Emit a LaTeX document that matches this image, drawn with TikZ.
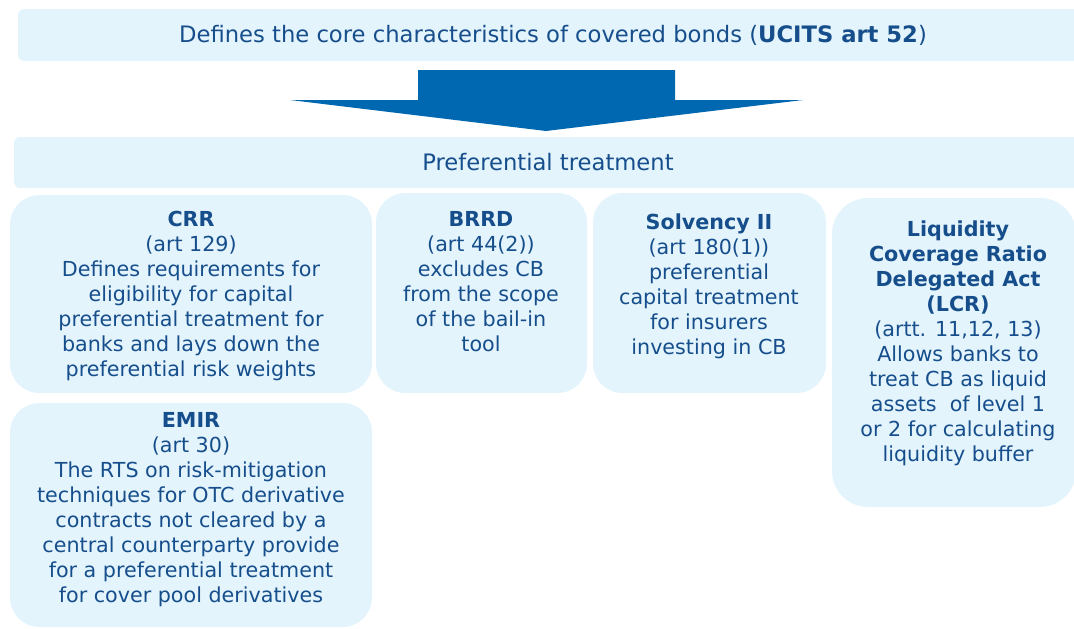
\documentclass[tikz,border=0pt]{standalone}
\usepackage{fontspec}
\setmainfont{DejaVu Sans}
\usetikzlibrary{fit}
\definecolor{boxfill}{RGB}{227,244,252}
\definecolor{txt}{RGB}{22,78,140}
\definecolor{arrowblue}{RGB}{0,103,177}
\begin{document}
\begin{tikzpicture}[x=0.75pt,y=-0.75pt,
  box/.style={fill=boxfill, draw=none, rounded corners=22pt, inner sep=0pt},
  banner/.style={fill=boxfill, draw=none, rounded corners=4.5pt, inner sep=0pt},
  body/.style={text=txt, align=center, font=\fontsize{15.5}{18.75}\selectfont, inner sep=0pt, anchor=north},
  head/.style={text=txt, font=\fontsize{17}{20}\selectfont, inner sep=0pt}]
\useasboundingbox (0,0) rectangle (1074,628);
\clip (0,0) rectangle (1074,628);
% banners
\node[banner, fit={(18,9) (1090,61)}] (topb) {};
\node[head] (toptext) at (553,35) {Defines the core characteristics of covered bonds (\textbf{UCITS art 52})};
\fill[arrowblue] (418,70) -- (675,70) -- (675,100) -- (803,100) -- (546,131) -- (290,100) -- (418,100) -- cycle;
\node[banner, fit={(14,137) (1090,188)}] (prefb) {};
\node[head] (preftext) at (548,162) {Preferential treatment};
% boxes
\node[box, fit={(10,195) (372,393)}] (crr) {};
\node[box, fit={(376,193) (587,393)}] (brrd) {};
\node[box, fit={(593,193) (826,393)}] (solv) {};
\node[box, rounded corners=27pt, fit={(832,198) (1076,507)}] (lcr) {};
\node[box, fit={(10,403) (372,627)}] (emir) {};
% texts
\node[body] (crrt) at (191,211) {\textbf{CRR}\\(art 129)\\Defines requirements for\\eligibility for capital\\preferential treatment for\\banks and lays down the\\preferential risk weights};
\node[body] (brrdt) at (481,211) {\textbf{BRRD}\\(art 44(2))\\excludes CB\\from the scope\\of the bail-in\\tool};
\node[body] (solvt) at (709,214) {\textbf{Solvency II}\\(art 180(1))\\preferential\\capital treatment\\for insurers\\investing in CB};
\node[body] (lcrt) at (958,221) {\textbf{Liquidity}\\\textbf{Coverage Ratio}\\\textbf{Delegated Act}\\\textbf{(LCR)}\\(artt. 11,12, 13)\\Allows banks to\\treat CB as liquid\\assets\ \ of level 1\\or 2 for calculating\\liquidity buffer};
\node[body] (emirt) at (191,412) {\textbf{EMIR}\\(art 30)\\The RTS on risk-mitigation\\techniques for OTC derivative\\contracts not cleared by a\\central counterparty provide\\for a preferential treatment\\for cover pool derivatives};
\end{tikzpicture}
\end{document}
